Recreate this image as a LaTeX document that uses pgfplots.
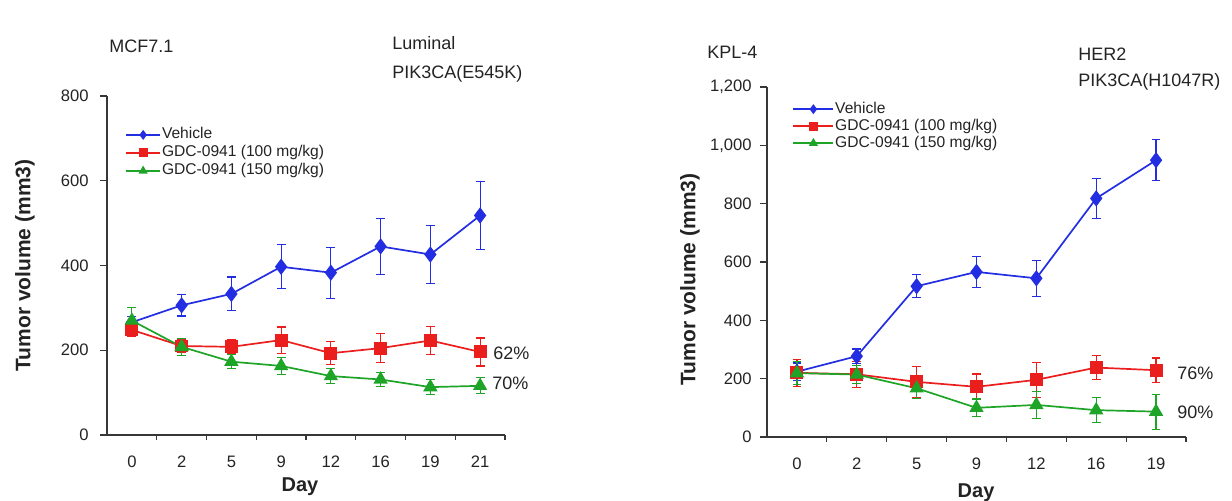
\documentclass[border=0pt]{standalone}
\usepackage{fontspec}
\setmainfont{Liberation Sans}
\usepackage{pgfplots}
\usepackage{pgfplotstable}
\pgfplotsset{compat=1.18}

\definecolor{vehblue}{RGB}{35,45,225}
\definecolor{lowred}{RGB}{235,30,30}
\definecolor{highgreen}{RGB}{30,165,40}
\definecolor{axisgray}{RGB}{55,55,55}
\definecolor{labelgray}{RGB}{35,35,35}

% MCF7.1 xenograft: x = day slot, y = mean volume (mm3), e = error
\pgfplotstableread{
x   y   e
0.5 266 13
1.5 306 25
2.5 333 40
3.5 397 52
4.5 383 60
5.5 445 66
6.5 426 69
7.5 518 80
}\mcfveh
\pgfplotstableread{
x   y   e
0.5 248 15
1.5 210 15
2.5 208 16
3.5 224 31
4.5 193 27
5.5 205 34
6.5 223 33
7.5 196 33
}\mcflow
\pgfplotstableread{
x   y   e
0.5 270 30
1.5 208 20
2.5 173 17
3.5 163 20
4.5 139 17
5.5 131 17
6.5 113 18
7.5 116 19
}\mcfhigh

% KPL-4 xenograft
\pgfplotstableread{
x   y   e
0.5 224 30
1.5 277 25
2.5 517 40
3.5 566 53
4.5 544 62
5.5 818 68
6.5 949 70
}\kplveh
\pgfplotstableread{
x   y   e
0.5 220 46
1.5 215 45
2.5 189 54
3.5 172 44
4.5 196 60
5.5 238 41
6.5 229 42
}\kpllow
\pgfplotstableread{
x   y   e
0.5 219 40
1.5 214 30
2.5 167 35
3.5 100 30
4.5 110 46
5.5  92 43
6.5  87 60
}\kplhigh

\tikzset{
  ylab/.style={anchor=center, rotate=90, text=labelgray,
    font=\bfseries\fontsize{10.5}{12}\selectfont},
  xlab/.style={anchor=center, text=labelgray,
    font=\bfseries\fontsize{10}{12}\selectfont},
}

\pgfplotsset{
  tumor/.style={
    scale only axis,
    anchor=south west,
    axis lines=left,
    axis line style={-, line width=0.7pt, draw=axisgray},
    xmin=0, ymin=0,
    tick align=outside,
    major tick length=3.5pt,
    minor tick length=2.5pt,
    tick style={draw=axisgray, line width=0.6pt},
    major x tick style={draw=none},
    /pgf/number format/assume math mode=true,
    tick label style={font=\fontsize{8.3}{9}\selectfont, text=labelgray},
    xticklabel style={anchor=center, yshift=-10pt},
    yticklabel style={anchor=east, inner sep=0pt},
    every axis plot/.append style={line width=0.85pt},
    error bars/y dir=both,
    error bars/y explicit,
    error bars/error bar style={line width=0.6pt},
    error bars/error mark options={rotate=90, mark size=2.2pt, line width=0.6pt},
    legend style={draw=none, fill=none, inner sep=0pt, row sep=0pt,
      font=\fontsize{7.8}{9}\selectfont, text=labelgray,
      nodes={inner sep=0.5pt, text height=6pt, text depth=2pt}},
    legend cell align=left,
    clip=false,
  },
  veh/.style={vehblue, mark=diamond*, mark size=3.4pt},
  low/.style={lowred, mark=square*, mark size=2.8pt},
  high/.style={highgreen, mark=triangle*, mark size=3.3pt},
}

\begin{document}
\begin{tikzpicture}
\path[use as bounding box] (0pt,0pt) rectangle (616pt,250.5pt);

% MCF7.1 panel
\begin{axis}[tumor,
  at={(53.5pt,33pt)}, width=199pt, height=169.5pt,
  xmax=8, ymax=800,
  xtick={0.5,1.5,...,7.5},
  xticklabels={0,2,5,9,12,16,19,21},
  minor xtick={1,2,...,8},
  ytick={0,200,400,600,800},
  yticklabels={0,200,400,600,800},
  yticklabel style={xshift=-5.5pt},
  xlabel={Day},
  ylabel={Tumor volume (mm3)},
  every axis x label/.style={at={(axis description cs:0.485,-0.153)}, xlab},
  every axis y label/.style={at={(axis description cs:-0.206,0.5)}, ylab},
  legend style={at={(axis description cs:0.045,0.913)}, anchor=north west},
  legend image code/.code={\draw[mark repeat=2, mark phase=2, #1, mark size=1.8pt]
    plot coordinates {(0pt,0pt) (8.5pt,0pt) (17pt,0pt)};},
]
\addplot[veh] table[x=x, y=y, y error=e] {\mcfveh};
\addlegendentry{Vehicle}
\addplot[low] table[x=x, y=y, y error=e] {\mcflow};
\addlegendentry{GDC-0941 (100 mg/kg)}
\addplot[high] table[x=x, y=y, y error=e] {\mcfhigh};
\addlegendentry{GDC-0941 (150 mg/kg)}
\end{axis}

% KPL-4 panel
\begin{axis}[tumor,
  at={(383.5pt,32pt)}, width=209.5pt, height=175pt,
  xmax=7, ymax=1200,
  xtick={0.5,1.5,...,6.5},
  xticklabels={0,2,5,9,12,16,19},
  minor xtick={1,2,...,7},
  ytick={0,200,400,600,800,1000,1200},
  yticklabels={0,200,400,600,800,{1,000},{1,200}},
  yticklabel style={xshift=-4pt},
  xlabel={Day},
  ylabel={Tumor volume (mm3)},
  every axis x label/.style={at={(axis description cs:0.499,-0.16)}, xlab},
  every axis y label/.style={at={(axis description cs:-0.184,0.45)}, ylab},
  legend style={at={(axis description cs:0.06,0.962)}, anchor=north west,
    nodes={text depth=1.5pt}},
  legend image code/.code={\draw[mark repeat=2, mark phase=2, #1, mark size=1.8pt]
    plot coordinates {(0pt,0pt) (10pt,0pt) (20pt,0pt)};},
]
\addplot[veh] table[x=x, y=y, y error=e] {\kplveh};
\addlegendentry{Vehicle}
\addplot[low] table[x=x, y=y, y error=e] {\kpllow};
\addlegendentry{GDC-0941 (100 mg/kg)}
\addplot[high] table[x=x, y=y, y error=e] {\kplhigh};
\addlegendentry{GDC-0941 (150 mg/kg)}
\end{axis}

% panel headings
\begin{scope}[every node/.style={anchor=west, inner sep=0pt, text=labelgray, font=\fontsize{9}{10}\selectfont}]
\node at (54.5pt,227.5pt) {MCF7.1};
\node at (196pt,229pt) {Luminal};
\node at (196pt,213.5pt) {PIK3CA(E545K)};
\node at (353.5pt,224.5pt) {KPL-4};
\node at (539pt,223.5pt) {HER2};
\node at (539pt,209.5pt) {PIK3CA(H1047R)};
% tumour growth inhibition at the last day
\node at (246.5pt,74pt) {62\%};
\node at (246pt,59pt) {70\%};
\node at (588.5pt,64pt) {76\%};
\node at (588.5pt,44.5pt) {90\%};
\end{scope}
\end{tikzpicture}
\end{document}
